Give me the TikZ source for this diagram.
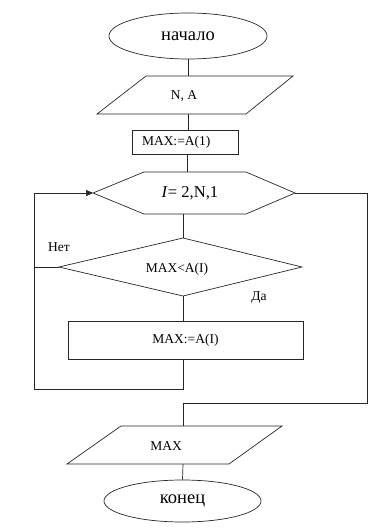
\documentclass[tikz,border=0pt]{standalone}
\usepackage{fontspec}
\setmainfont{Liberation Serif}
\newfontfamily\tnr{Liberation Serif}
\usetikzlibrary{arrows.meta,shapes.geometric}
\begin{document}
\begin{tikzpicture}[x=1pt,y=-1pt,
  line/.style={draw=black!85,line width=0.7pt},
  lbl/.style={inner sep=0pt,font=\tnr\fontsize{13.5}{15}\selectfont},
  big/.style={inner sep=0pt,font=\tnr\fontsize{18.5}{20}\selectfont},
  mid/.style={inner sep=0pt,font=\tnr\fontsize{16.6}{18}\selectfont},
  term/.style={ellipse,line,inner sep=0pt,big},
  tip/.style={-{Triangle[length=7pt,width=6pt]}}]
\useasboundingbox (0,0) rectangle (377,529);

% start
\node[term,minimum width=158pt,minimum height=46pt] (start) at (188,36) {начало};

% input N, A
\coordinate (inT) at (188,76);
\coordinate (inB) at (188,114);
\draw[line] (97,114) -- (146,76) -- (293,76) -- (246,114) -- cycle;
\node[lbl] (in1) at (184,96) {N, A};

% MAX:=A(1)
\node[lbl,rectangle,line,minimum width=106pt,minimum height=24pt,text width=86pt,inner xsep=10pt,align=left] (init) at (185,142) {MAX:=A(1)};

% loop hexagon
\coordinate (hT) at (187,172);
\coordinate (hB) at (183,214);
\coordinate (hL) at (93,193);
\coordinate (hR) at (295,193);
\draw[line] (hL) -- (144,172) -- (246,172) -- (hR) -- (246,214) -- (144,214) -- cycle;
\node[mid] (loop) at (190,193) {\textit{I}= 2,N,1};

% condition diamond
\coordinate (dT) at (183,238);
\coordinate (dL) at (59,267);
\coordinate (dR) at (302,267);
\coordinate (dB) at (183,296);
\draw[line] (dL) -- (dT) -- (dR) -- (dB) -- cycle;
\node[lbl] (cond) at (177,269) {MAX<A(I)};
\node[lbl] (no) at (59,247) {Нет};
\node[lbl] (yes) at (259,298) {Да};

% MAX:=A(I)
\node[lbl,rectangle,line,minimum width=235pt,minimum height=38pt] (body) at (185.5,340) {MAX:=A(I)};

% output MAX
\coordinate (oT) at (183,426);
\coordinate (oB) at (183,464);
\draw[line] (67,464) -- (121,426) -- (282,426) -- (229,464) -- cycle;
\node[lbl] (out) at (166,446) {MAX};

% end
\node[term,minimum width=157pt,minimum height=42pt] (stop) at (182.5,501) {конец};

% helper coordinates
\coordinate (jb) at (183,389);
\coordinate (jl) at (34,389);
\coordinate (jt) at (34,193);
\coordinate (rt) at (367,193);
\coordinate (rb) at (367,403);
\coordinate (ob) at (183,403);

% connectors
\draw[line] (start.south) -- (inT);
\draw[line] (inB) -- (inB |- init.north);
\draw[line] (init.south -| hT) -- (hT);
\draw[line] (hB) -- (dT);
\draw[line] (dB) -- (body.north -| dB);
\draw[line,tip] (body.south -| dB) -- (jb) -- (jl) -- (jt) -- (hL);
\draw[line] (dL) -- (dL -| jl);
\draw[line] (hR) -- (rt) -- (rb) -- (ob) -- (oT);
\draw[line] (oB) -- (stop.north);
\end{tikzpicture}
\end{document}
